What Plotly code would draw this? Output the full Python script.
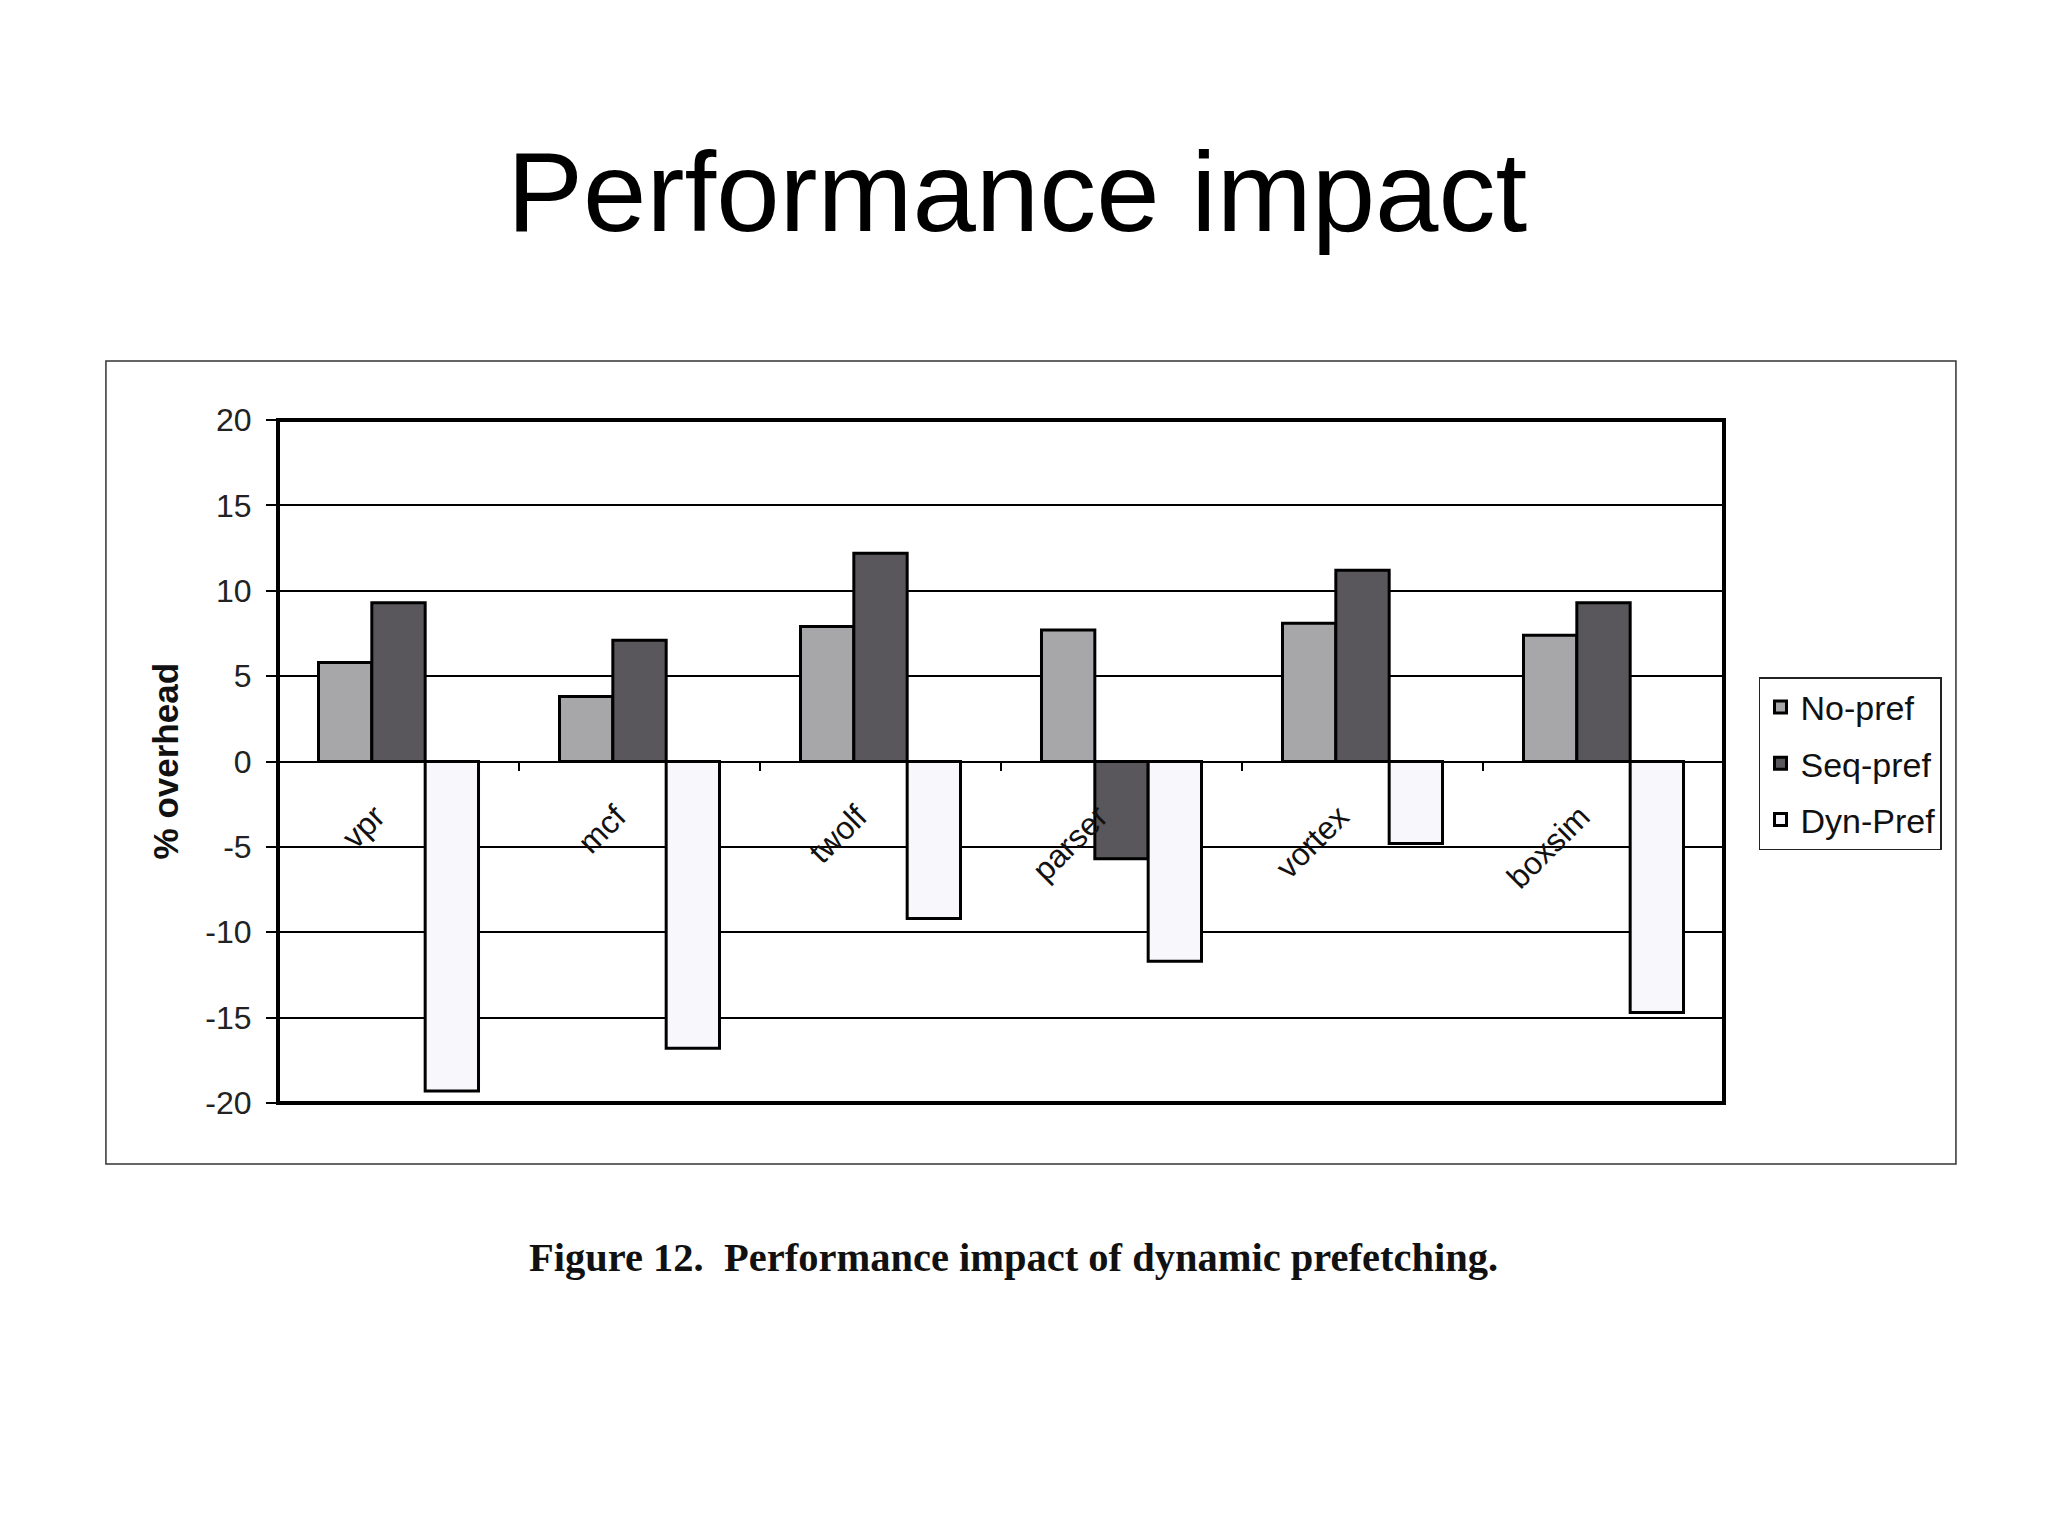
import plotly.graph_objects as go

categories = ["vpr", "mcf", "twolf", "parser", "vortex", "boxsim"]
no_pref = [5.8, 3.8, 7.9, 7.7, 8.1, 7.4]
seq_pref = [9.3, 7.1, 12.2, -5.7, 11.2, 9.3]
dyn_pref = [-19.3, -16.8, -9.2, -11.7, -4.8, -14.7]
series_names = ["No-pref", "Seq-pref", "Dyn-Pref"]
series_colors = ["#a7a6a9", "#59575b", "#f8f7fc"]
y_ticks = [-20, -15, -10, -5, 0, 5, 10, 15, 20]
y_ticktext = [str(v) for v in y_ticks]

# page body adds an 8px margin, so the figure is slightly smaller and shifted
W, H = 2032, 1519
L, T = 270, 412
PW, PH = 1446, 683
R = W - L - PW
B = H - T - PH

fig = go.Figure()
for name, vals, col in zip(series_names, [no_pref, seq_pref, dyn_pref], series_colors):
    fig.add_trace(go.Bar(
        x=categories, y=vals, name=name,
        marker=dict(color=col, line=dict(color="#000000", width=3)),
        legendgroup=name,
    ))

sans = "Liberation Sans, Arial, sans-serif"

fig.update_layout(
    width=W, height=H,
    margin=dict(l=L, r=R, t=T, b=B, autoexpand=False),
    paper_bgcolor="white", plot_bgcolor="white",
    barmode="group", bargap=0.336, bargroupgap=0,
    showlegend=True,
    legend=dict(
        x=1.0242, y=0.6237, xanchor="left", yanchor="top",
        bordercolor="#222222", borderwidth=1.5,
        font=dict(family=sans, size=34, color="#111111"),
        tracegroupgap=9,
    ),
    xaxis=dict(
        type="category",
        anchor="free", position=0.5,
        tickson="boundaries",
        ticks="outside", ticklen=8, tickwidth=1.5, tickcolor="#000000",
        showline=False, showgrid=False, zeroline=False,
        tickangle=-45,
        tickfont=dict(family=sans, size=32, color="#111111"),
        ticklabelstandoff=29,
        ticklabelshift=-23,
        range=[-0.5, 5.5],
    ),
    yaxis=dict(
        range=[-20, 20],
        tickvals=y_ticks, ticktext=y_ticktext,
        ticks="outside", ticklen=11, tickwidth=1.5, tickcolor="#000000",
        showline=False,
        showgrid=True, gridcolor="#000000", gridwidth=1.5,
        zeroline=True, zerolinecolor="#000000", zerolinewidth=2,
        tickfont=dict(family=sans, size=32, color="#222222"),
        ticklabelstandoff=8,
    ),
    title=dict(
        text="Performance impact",
        x=0.4966, xanchor="center",
        y=0.8795, yanchor="middle",
        font=dict(family="Liberation Sans Narrow, Arial Narrow, Liberation Sans, sans-serif",
                  size=114, color="#000000"),
    ),
    shapes=[
        dict(type="rect", xref="paper", yref="paper", x0=0, x1=1, y0=0, y1=1,
             line=dict(color="#000000", width=4), layer="above"),
        dict(type="rect", xref="paper", yref="paper",
             x0=-0.119, x1=1.1604, y0=-0.0893, y1=1.0864,
             line=dict(color="#333333", width=1.5), layer="below"),
    ],
    annotations=[
        dict(text="<b>% overhead</b>", textangle=-90,
             xref="paper", yref="paper", x=-0.0775, y=0.5,
             xanchor="center", yanchor="middle", showarrow=False,
             font=dict(family=sans, size=35, color="#111111")),
        dict(text="<b>Figure 12.\u00a0 Performance impact of dynamic prefetching.</b>",
             xref="paper", yref="paper", x=0.1722, y=-0.2255,
             xanchor="left", yanchor="middle", showarrow=False,
             font=dict(family="Liberation Serif, Times New Roman, serif", size=40.5, color="#111111")),
    ],
)

fig.write_html("out.html")
